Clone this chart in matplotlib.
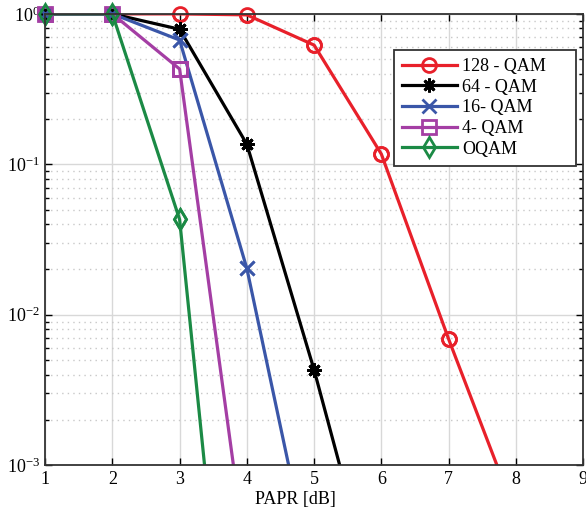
import numpy as np
import matplotlib
matplotlib.use("Agg")
import matplotlib.pyplot as plt
from matplotlib.ticker import LogLocator, NullFormatter

plt.rcParams['font.family'] = ['Liberation Serif', 'DejaVu Serif']
plt.rcParams['mathtext.fontset'] = 'stix'
plt.rcParams['mathtext.default'] = 'regular'

papr = [1, 2, 3, 4, 5, 6, 7, 8]
qam128 = [1.0, 1.0, 1.0, 0.985, 0.62, 0.117, 0.0069, 4.7e-4]
qam64 = [1.0, 1.0, 0.79, 0.136, 0.0043, 9.3e-5]
qam16 = [1.0, 1.0, 0.67, 0.0203, 1.6e-4]
qam4 = [1.0, 1.0, 0.43, 2.2e-4]
oqam = [1.0, 1.0, 0.043, 1.7e-6]

labels = ['128 - QAM', '64 - QAM', '16- QAM', '4- QAM', 'OQAM']
colors = ['#e8202a', '#000000', '#3a56a8', '#a43ea4', '#1b8a45']
markers = ['o', (8, 2, 0), 'x', 's', 'd']
series = [qam128, qam64, qam16, qam4, oqam]

fig = plt.figure(figsize=[5.86, 5.14], dpi=100)
ax = fig.add_axes([0.077, 0.095, 0.918, 0.878])

for y, lab, c, m in zip(series, labels, colors, markers):
    x = papr[:len(y)]
    ax.plot(x, y, color=c, lw=2.3, marker=m, ms=10, mew=2,
            mfc='none', label=lab)
    # markers sitting on the top border are drawn unclipped
    keep = [i for i, v in enumerate(y) if v >= 1e-3]
    ax.plot([x[i] for i in keep], [y[i] for i in keep], ls='none',
            color=c, marker=m, ms=10, mew=2, mfc='none', clip_on=False)

ax.set_yscale('log')
ax.set_xlim(1, 9)
ax.set_ylim(1e-3, 1)
ax.set_xticks(range(1, 10))
ax.yaxis.set_minor_locator(LogLocator(base=10, subs=np.arange(2, 10)))
ax.yaxis.set_minor_formatter(NullFormatter())
ax.tick_params(which='both', direction='in', top=True, right=True,
               labelsize=13, width=1)
ax.tick_params(which='major', length=5)
ax.tick_params(which='minor', length=3)
ax.tick_params(axis='x', pad=4)
ax.grid(True, which='major', color='#d8d8d8', lw=1)
ax.grid(True, which='minor', axis='y', color='#c8c8c8', ls=(0, (1, 3)), lw=1)
ax.set_axisbelow(True)
for s in ax.spines.values():
    s.set_linewidth(1.3)
    s.set_color('#333333')

ax.set_xlabel('PAPR [dB]', fontsize=13)
ax.xaxis.set_label_coords(0.465, -0.058)
leg = ax.legend(loc='upper left', bbox_to_anchor=(0.649, 0.5, 0.338, 0.42),
                mode='expand', fontsize=13,
                fancybox=False, edgecolor='#333333', framealpha=1,
                handlelength=3.0, labelspacing=0.2, borderpad=0.45,
                handletextpad=0.3, borderaxespad=0)
leg.get_frame().set_linewidth(1.3)

plt.savefig('out.png', dpi=100)
